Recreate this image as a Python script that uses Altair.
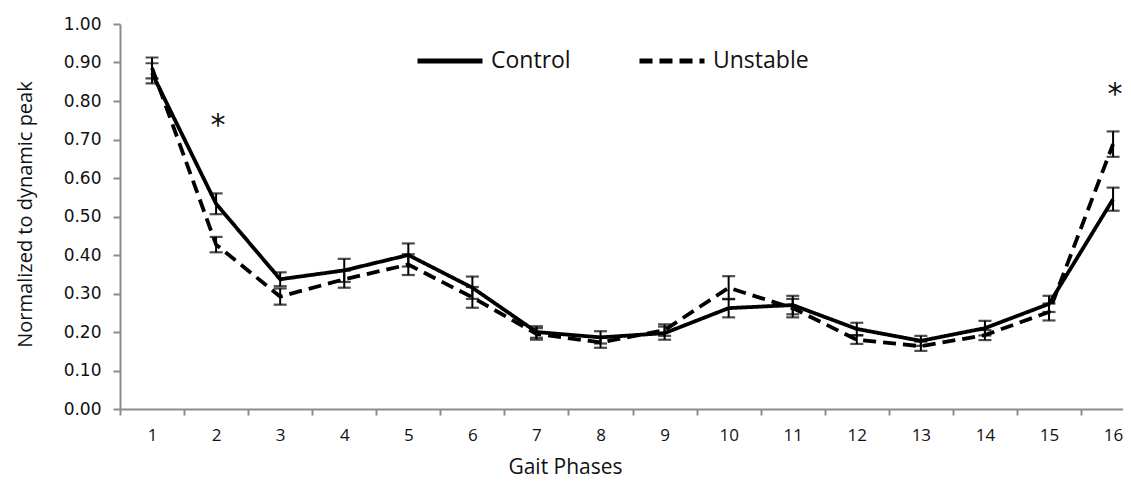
import altair as alt
import pandas as pd

phases = list(range(1, 17))
control = [0.872, 0.533, 0.337, 0.360, 0.400, 0.315, 0.200, 0.186, 0.197, 0.262,
           0.270, 0.208, 0.177, 0.210, 0.273, 0.545]
control_err = [0.026, 0.027, 0.018, 0.030, 0.030, 0.029, 0.015, 0.016, 0.017, 0.024,
               0.024, 0.016, 0.013, 0.019, 0.021, 0.030]
unstable = [0.886, 0.427, 0.292, 0.337, 0.375, 0.290, 0.195, 0.173, 0.205, 0.315,
            0.262, 0.180, 0.163, 0.192, 0.252, 0.688]
unstable_err = [0.027, 0.020, 0.021, 0.022, 0.027, 0.027, 0.015, 0.014, 0.015, 0.030,
                0.024, 0.011, 0.012, 0.013, 0.022, 0.033]
series_names = ["Control", "Unstable"]
star_phases = [2, 16]
star_values = [0.75, 0.83]
y_ticks = [round(i * 0.1, 1) for i in range(11)]

rows = []
for name, vals, errs in [("Control", control, control_err), ("Unstable", unstable, unstable_err)]:
    for p, v, e in zip(phases, vals, errs):
        rows.append({"phase": p, "value": v, "lo": v - e, "hi": v + e, "group": name})
df = pd.DataFrame(rows)
stars = pd.DataFrame({"phase": star_phases, "value": star_values, "label": ["*", "*"]})

FONT = "Open Sans"
BAND = 64.07
x_scale = alt.Scale(domain=[0.5, 16.155], nice=False, zero=False)
y_scale = alt.Scale(domain=[0, 1], nice=False)

x_axis = alt.Axis(values=phases, format="d", title="Gait Phases", grid=False,
                  tickOffset=-BAND / 2, labelOffset=BAND / 2, labelOverlap=False,
                  labelFlush=False,
                  tickSize=6, tickColor="#8c8c8c", domainColor="#8c8c8c",
                  domainWidth=2, tickWidth=2,
                  labelFont=FONT, labelFontSize=17, labelColor="#111111",
                  labelPadding=12, titleFont=FONT, titleFontSize=21,
                  titleFontWeight="normal", titleColor="#111111",
                  titleX=445, titleY=58, titleAlign="center", titleBaseline="middle")
y_axis = alt.Axis(values=y_ticks, format=".2f", title="Normalized to dynamic peak",
                  grid=False, tickSize=7, tickColor="#8c8c8c", domainColor="#8c8c8c",
                  domainWidth=2, tickWidth=2, labelOverlap=False, labelFlush=False,
                  labelFont="DejaVu Sans", labelFontSize=17, labelColor="#111111",
                  labelPadding=12,
                  titleFont=FONT, titleFontSize=20, titleFontWeight="normal",
                  titleColor="#111111", titleX=-95, titleY=190, titleAngle=-90,
                  titleAlign="center", titleBaseline="middle")

dash_scale = alt.Scale(domain=series_names, range=[[1, 0], [13, 7]])


def X(field):
    return alt.X(field, type="quantitative", scale=x_scale, axis=x_axis)


def Y(field):
    return alt.Y(field, type="quantitative", scale=y_scale, axis=y_axis)


lines = alt.Chart(df).mark_line(color="black", strokeWidth=3.8).encode(
    x=X("phase"),
    y=Y("value"),
    strokeDash=alt.StrokeDash("group:N", scale=dash_scale, title=None,
                              legend=alt.Legend(orient="none", legendX=295, legendY=2,
                                                direction="horizontal", symbolType="stroke",
                                                symbolSize=4225, symbolStrokeWidth=5,
                                                symbolStrokeColor="black",
                                                labelFont=FONT, labelFontSize=23,
                                                labelColor="#111111", labelOffset=6,
                                                columnPadding=58)),
    detail="group:N",
)

rules = alt.Chart(df).mark_rule(color="black", strokeWidth=2).encode(
    x=X("phase"), y=Y("lo"), y2="hi:Q")
caps_lo = alt.Chart(df).mark_tick(color="black", thickness=2.2, size=13, orient="horizontal").encode(
    x=X("phase"), y=Y("lo"))
caps_hi = alt.Chart(df).mark_tick(color="black", thickness=2.2, size=13, orient="horizontal").encode(
    x=X("phase"), y=Y("hi"))

star_text = alt.Chart(stars).mark_text(font="DejaVu Sans", fontSize=30, color="#111111",
                                        baseline="middle", dy=6, dx=2).encode(
    x=X("phase"), y=Y("value"), text="label:N")

chart = alt.layer(lines, rules, caps_lo, caps_hi, star_text).properties(
    width=1003, height=385,
    autosize=alt.AutoSizeParams(type="none"),
    padding={"left": 112, "top": 16, "right": 0, "bottom": 72},
).configure_view(stroke=None)

chart.save("out.html", embed_options={"renderer": "svg", "actions": False})
